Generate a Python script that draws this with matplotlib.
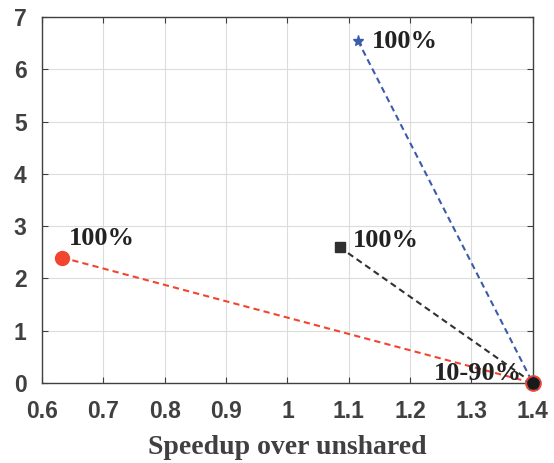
import matplotlib
matplotlib.use("Agg")
import matplotlib.pyplot as plt

series_names = ["blue", "black", "red"]
speedup_100 = [1.115, 1.085, 0.633]
y_100 = [6.55, 2.6, 2.4]
speedup_1090 = [1.4, 1.4, 1.4]
y_1090 = [0.0, 0.0, 0.0]
colors = ["#3b5bab", "#303030", "#f2452f"]
markers = ["*", "s", "o"]
msizes = [8, 7.5, 10]
label_offsets = [(10, -0.5), (9.5, 5), (4.5, 14)]

xticks = [0.6, 0.7, 0.8, 0.9, 1.0, 1.1, 1.2, 1.3, 1.4]
xticklabels = ["0.6", "0.7", "0.8", "0.9", "1", "1.1", "1.2", "1.3", "1.4"]
yticks = [0, 1, 2, 3, 4, 5, 6, 7]

fig = plt.figure(figsize=(5.54, 4.63), dpi=100)
ax = fig.add_axes([0.0758, 0.1728, 0.886, 0.79])

for i in range(3):
    ax.plot([speedup_100[i], speedup_1090[i]], [y_100[i], y_1090[i]],
            linestyle=(0, (3, 2)), color=colors[i], lw=1.5, zorder=3)
    ax.plot(speedup_100[i], y_100[i], marker=markers[i], color=colors[i],
            ms=msizes[i], linestyle="none", zorder=4)
    ax.annotate("100%", (speedup_100[i], y_100[i]), xytext=label_offsets[i],
                textcoords="offset points", ha="left", va="center",
                fontsize=19, fontweight="bold", family="Liberation Serif", color="#222222")

# endpoint markers at 10-90%
ax.plot(speedup_1090[2], y_1090[2], marker="o", color="#f2452f", ms=11, linestyle="none", zorder=5, clip_on=False)
ax.plot(speedup_1090[0], y_1090[0], marker="*", color="#3b5bab", ms=10, linestyle="none", zorder=6, clip_on=False)
ax.plot(speedup_1090[1], y_1090[1], marker="o", color="#1a1a1a", ms=8, linestyle="none", zorder=7, clip_on=False)
ax.annotate("10-90%", (1.4, 0.0), xytext=(-8, 6.5), textcoords="offset points",
            ha="right", va="center", fontsize=19, fontweight="bold",
            family="Liberation Serif", color="#222222", zorder=8)

ax.set_xlim(0.6, 1.4)
ax.set_ylim(0, 7)
ax.set_xticks(xticks)
ax.set_xticklabels(xticklabels)
ax.set_yticks(yticks)
ax.grid(True, color="#dcdcdc", lw=0.8)
ax.set_axisbelow(True)
ax.tick_params(direction="in", top=True, right=True, length=4, color="#404040",
               labelsize=16.5, labelcolor="#404040")
ax.tick_params(axis="x", pad=12)
ax.tick_params(axis="y", pad=11)
for lab in ax.get_xticklabels() + ax.get_yticklabels():
    lab.set_fontweight("bold")
    lab.set_family("Liberation Sans")
for sp in ax.spines.values():
    sp.set_color("#404040")
    sp.set_linewidth(1.0)
ax.set_xlabel("Speedup over unshared", fontsize=20, fontweight="bold",
              family="Liberation Serif", color="#404040", labelpad=9)

fig.savefig("out.png", dpi=100)
